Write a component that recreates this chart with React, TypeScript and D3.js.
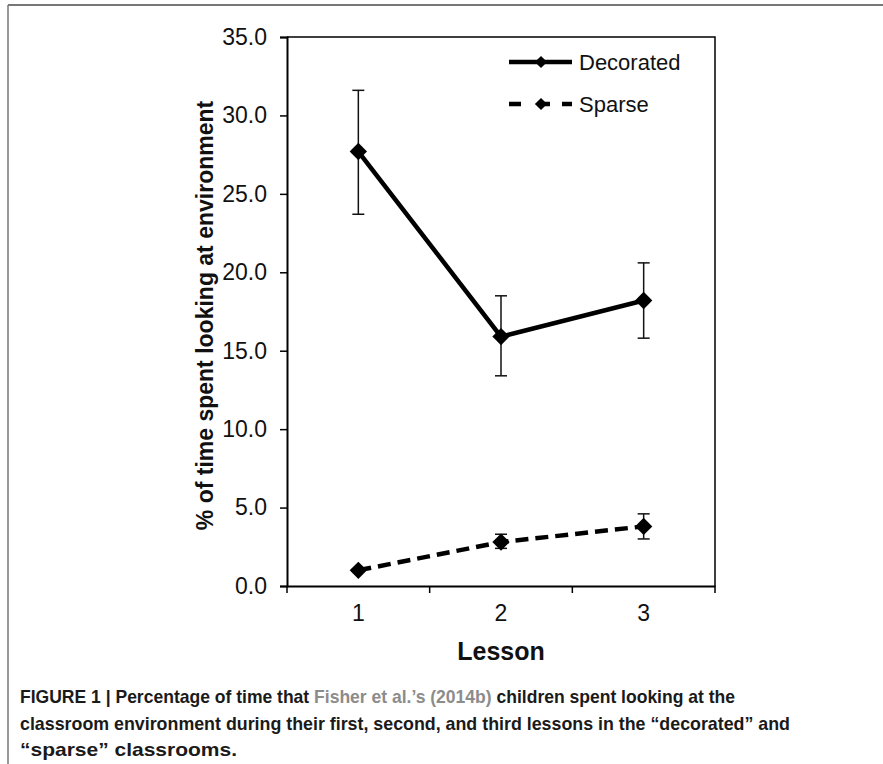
import React, { useRef, useEffect } from 'react';
import * as d3 from 'd3';

const lessons = ['1', '2', '3'];
const decorated = [27.7, 15.9, 18.2];
const decoratedLow = [23.7, 13.4, 15.8];
const decoratedHigh = [31.6, 18.5, 20.6];
const sparse = [1.0, 2.8, 3.8];
const sparseLow = [0.9, 2.4, 3.0];
const sparseHigh = [1.1, 3.3, 4.6];
const yTicks = [0, 5, 10, 15, 20, 25, 30, 35];

const captionLines = [
  [
    { t: 'FIGURE 1 | Percentage of time that ', c: '#1a1a1a' },
    { t: 'Fisher et al.\u2019s (2014b)', c: '#8c8c8c' },
    { t: ' children spent looking at the', c: '#1a1a1a' },
  ],
  [{ t: 'classroom environment during their first, second, and third lessons in the \u201cdecorated\u201d and', c: '#1a1a1a' }],
  [{ t: '\u201csparse\u201d classrooms.', c: '#1a1a1a' }],
];
const captionWidths = [715, 770, 217];

const App = () => {
  const ref = useRef<SVGSVGElement>(null);

  useEffect(() => {
    const svg = d3.select(ref.current);
    svg.selectAll('*').remove();
    const font = '"Liberation Sans", Arial, sans-serif';

    // page frame
    svg.append('line').attr('x1', 8).attr('x2', 883).attr('y1', 5).attr('y2', 5)
      .attr('stroke', '#777').attr('stroke-width', 2);
    svg.append('line').attr('x1', 8).attr('x2', 8).attr('y1', 5).attr('y2', 764)
      .attr('stroke', '#777').attr('stroke-width', 1.5);

    const left = 287, right = 715, top = 37, bottom = 586;
    const x = d3.scaleBand().domain(lessons).range([left, right]);
    const y = d3.scaleLinear().domain([0, 35]).range([bottom, top]);
    const cx = (d: string) => (x(d) as number) + x.bandwidth() / 2;

    // plot frame (top and right)
    svg.append('path')
      .attr('d', `M${left},${top}H${right}V${bottom}`)
      .attr('fill', 'none').attr('stroke', '#000').attr('stroke-width', 1.5);

    // y axis
    const yAxis = svg.append('g').attr('transform', `translate(${left},0)`)
      .call(d3.axisLeft(y).tickValues(yTicks).tickFormat(d3.format('.1f')).tickSize(7).tickPadding(13));
    yAxis.select('.domain').attr('stroke-width', 2);
    yAxis.selectAll('line').attr('stroke-width', 1.5);
    yAxis.selectAll('text').attr('font-size', 23).attr('font-family', font).attr('fill', '#111');

    // x axis
    const xAxis = svg.append('g').attr('transform', `translate(0,${bottom})`)
      .call(d3.axisBottom(x).tickSize(0).tickPadding(19));
    xAxis.select('.domain').attr('stroke-width', 2);
    xAxis.selectAll('text').attr('font-size', 23).attr('font-family', font).attr('fill', '#111');
    const bounds = [left, left + x.bandwidth(), left + 2 * x.bandwidth(), right];
    svg.append('g').selectAll('line').data(bounds).enter().append('line')
      .attr('x1', d => d).attr('x2', d => d)
      .attr('y1', bottom).attr('y2', bottom + 7)
      .attr('stroke', '#000').attr('stroke-width', 1.5);

    // axis titles
    svg.append('text').attr('x', cx('2')).attr('y', 660).attr('text-anchor', 'middle')
      .attr('font-family', font).attr('font-weight', 'bold').attr('font-size', 25).attr('fill', '#111')
      .text('Lesson');
    svg.append('text').attr('transform', `translate(213,${(top + bottom) / 2 + 4}) rotate(-90)`)
      .attr('text-anchor', 'middle')
      .attr('font-family', font).attr('font-weight', 'bold').attr('font-size', 23).attr('fill', '#111')
      .text('% of time spent looking at environment');

    const line = d3.line<number>().x((d, i) => cx(lessons[i])).y(d => y(d));
    const diamond = d3.symbol().type(d3.symbolSquare);

    const drawSeries = (vals: number[], lo: number[], hi: number[], dash: string | null) => {
      const g = svg.append('g');
      // error bars
      vals.forEach((v, i) => {
        const px = cx(lessons[i]);
        g.append('line').attr('x1', px).attr('x2', px).attr('y1', y(lo[i])).attr('y2', y(hi[i]))
          .attr('stroke', '#111').attr('stroke-width', 1.5);
        [lo[i], hi[i]].forEach(e => {
          g.append('line').attr('x1', px - 6).attr('x2', px + 6).attr('y1', y(e)).attr('y2', y(e))
            .attr('stroke', '#111').attr('stroke-width', 1.5);
        });
      });
      g.append('path').datum(vals).attr('d', line).attr('fill', 'none')
        .attr('stroke', '#000').attr('stroke-width', 4.5)
        .attr('stroke-dasharray', dash);
      g.selectAll('.pt').data(vals).enter().append('path').attr('class', 'pt')
        .attr('d', diamond.size(150)())
        .attr('transform', (d, i) => `translate(${cx(lessons[i])},${y(d)}) rotate(45)`)
        .attr('fill', '#000');
    };
    drawSeries(decorated, decoratedLow, decoratedHigh, null);
    drawSeries(sparse, sparseLow, sparseHigh, '13,7');

    // legend
    const legend = [
      { name: 'Decorated', dash: null, yy: 62 },
      { name: 'Sparse', dash: '12,17,12', yy: 104 },
    ];
    legend.forEach(l => {
      svg.append('line').attr('x1', 509).attr('x2', 572).attr('y1', l.yy).attr('y2', l.yy)
        .attr('stroke', '#000').attr('stroke-width', 4.5).attr('stroke-dasharray', l.dash);
      svg.append('path').attr('d', diamond.size(75)())
        .attr('transform', `translate(541,${l.yy}) rotate(45)`).attr('fill', '#000');
      svg.append('text').attr('x', 579).attr('y', l.yy + 8)
        .attr('font-family', font).attr('font-size', 22).attr('fill', '#111').text(l.name);
    });

    // caption
    captionLines.forEach((parts, i) => {
      const t = svg.append('text').attr('x', 20).attr('y', 703 + i * 26.5)
        .attr('font-family', font).attr('font-weight', 'bold').attr('font-size', 18.5)
        .attr('textLength', captionWidths[i]).attr('lengthAdjust', 'spacingAndGlyphs');
      parts.forEach(p => t.append('tspan').attr('fill', p.c).text(p.t));
    });
  }, []);

  return (
    <svg ref={ref} width={883} height={764}
      style={{ position: 'absolute', left: 0, top: 0, background: '#fff' }} />
  );
};

export default App;
